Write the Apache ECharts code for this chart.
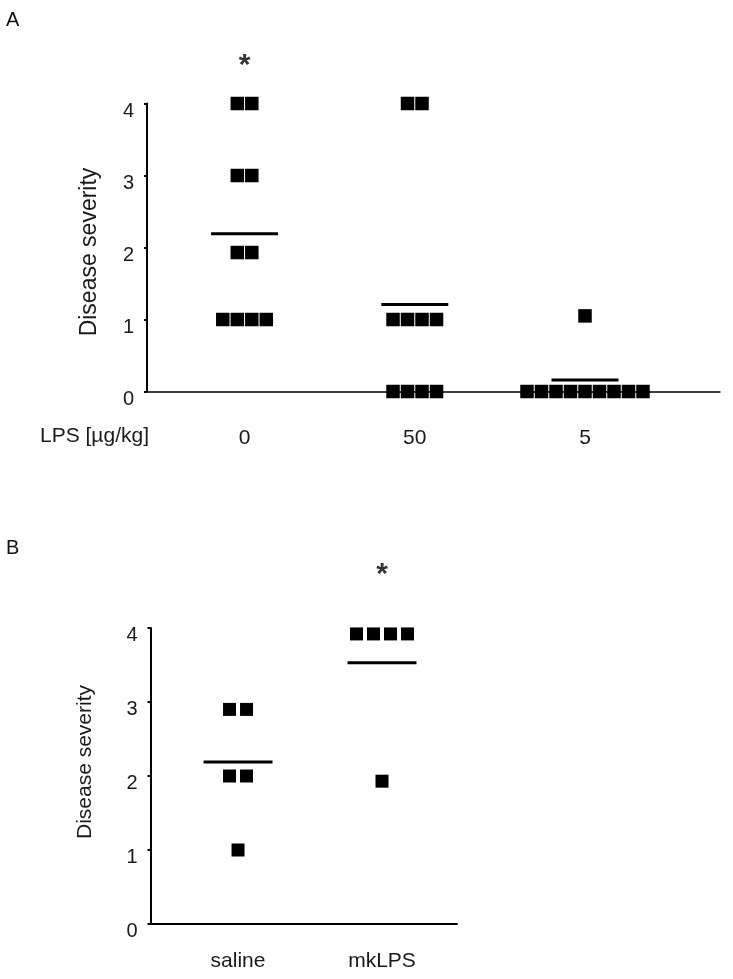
<!DOCTYPE html>
<html>
<head>
<meta charset="utf-8">
<script src="https://cdn.jsdelivr.net/npm/echarts@6/dist/echarts.min.js"></script>
<style>
html,body{margin:0;padding:0;background:#fff;}
#chart{width:733px;height:979px;}
</style>
</head>
<body>
<div id="chart"></div>
<script>
// ---------- Panel A data ----------
const catA = ['0', '50', '5'];               // LPS [µg/kg]
const sevA_0 = [4, 4, 3, 3, 1.93, 1.93, 1, 1, 1, 1];
const sevA_50 = [4, 4, 1, 1, 1, 1, 0, 0, 0, 0];
const sevA_5 = [1.05, 0, 0, 0, 0, 0, 0, 0, 0, 0];
const meanA = [2.19, 1.21, 0.16];
const starA = [4.58, null, null];

// ---------- Panel B data ----------
const catB = ['saline', 'mkLPS'];
const sevB_saline = [2.9, 2.9, 2, 2, 1];
const sevB_mkLPS = [3.92, 3.92, 3.92, 3.92, 1.93];
const meanB = [2.19, 3.53];
const starB = [null, 4.78];

const yTicks = [0, 1, 2, 3, 4];
const yName = 'Disease severity';

const FONT = '"Liberation Sans", Arial, sans-serif';
const TXT = '#1a1a1a';

// layout
const gA = {left: 147, top: 103.5, width: 573, height: 288};
const gB = {left: 150.5, top: 628, width: 306.5, height: 296};
const xA = {min: 0.427, max: 3.793};
const xB = {min: 0.392, max: 2.521};

function points(groups, pitchPx, grid, xr) {
  const pitch = pitchPx * (xr.max - xr.min) / grid.width;
  const pts = [];
  groups.forEach((vals, gi) => {
    const counts = {}, seen = {};
    vals.forEach(v => counts[v] = (counts[v] || 0) + 1);
    vals.forEach(v => {
      const n = counts[v];
      const k = (seen[v] = (seen[v] || 0) + 1) - 1;
      pts.push([gi + 1 + (k - (n - 1) / 2) * pitch, v]);
    });
  });
  return pts;
}
const idxData = arr => arr.map((v, i) => v == null ? null : [i + 1, v]).filter(d => d);

function yAxis(gi, fs) {
  return {
    type: 'value', gridIndex: gi, min: 0, max: 4, interval: 1,
    axisLine: {show: true, lineStyle: {color: '#000', width: 2}},
    axisTick: {show: true, inside: false, length: 3, lineStyle: {color: '#000', width: 2}},
    axisLabel: {fontFamily: FONT, fontSize: fs, color: TXT, margin: 13,
      verticalAlign: 'top', lineHeight: 15,
      formatter: v => yTicks.includes(v) ? String(v) : ''},
    splitLine: {show: false}
  };
}
function xAxis(gi, xr, cats, fs, margin, lw) {
  return {
    type: 'value', gridIndex: gi, min: xr.min, max: xr.max,
    axisLine: {show: true, onZero: false, lineStyle: {color: '#000', width: lw}},
    axisTick: {show: false},
    splitLine: {show: false},
    axisLabel: {
      fontFamily: FONT, fontSize: fs, color: TXT, margin: margin,
      customValues: cats.map((c, i) => i + 1),
      formatter: v => cats[Math.round(v) - 1] || ''
    }
  };
}
const sq = {color: '#000', opacity: 1};
const starLabel = {show: true, position: 'inside', formatter: '*', fontFamily: FONT,
  fontSize: 30, fontWeight: 'bold', color: '#000', offset: [0, 4]};

const option = {
  animation: false,
  backgroundColor: '#fff',
  grid: [
    Object.assign({containLabel: false}, gA),
    Object.assign({containLabel: false}, gB)
  ],
  xAxis: [xAxis(0, xA, catA, 21, 36, 1.5), xAxis(1, xB, catB, 21, 27, 2)],
  yAxis: [yAxis(0, 20), yAxis(1, 20)],
  graphic: [
    {type: 'text', left: 6, top: 10, style: {text: 'A', font: '20px ' + FONT, fill: '#111'}},
    {type: 'text', left: 6, top: 538, style: {text: 'B', font: '20px ' + FONT, fill: '#111'}},
    {type: 'text', left: 40, top: 426, style: {text: 'LPS [µg/kg]', font: '21px ' + FONT, fill: TXT}},
    {type: 'text', x: 90, y: 252, rotation: Math.PI / 2,
      style: {text: yName, font: '23px ' + FONT, fill: TXT, align: 'center', verticalAlign: 'middle'}},
    {type: 'text', x: 85, y: 762, rotation: Math.PI / 2,
      style: {text: yName, font: '21px ' + FONT, fill: TXT, align: 'center', verticalAlign: 'middle'}}
  ],
  series: [
    {type: 'scatter', xAxisIndex: 0, yAxisIndex: 0, clip: false, symbol: 'rect', symbolSize: 13.5,
      itemStyle: sq, data: points([sevA_0, sevA_50, sevA_5], 14.5, gA, xA)},
    {type: 'scatter', xAxisIndex: 0, yAxisIndex: 0, clip: false, symbol: 'rect', symbolSize: [67, 3],
      itemStyle: sq, data: idxData(meanA)},
    {type: 'scatter', xAxisIndex: 0, yAxisIndex: 0, clip: false, symbolSize: 0,
      label: starLabel, data: idxData(starA)},
    {type: 'scatter', xAxisIndex: 1, yAxisIndex: 1, clip: false, symbol: 'rect', symbolSize: 13,
      itemStyle: sq, data: points([sevB_saline, sevB_mkLPS], 17, gB, xB)},
    {type: 'scatter', xAxisIndex: 1, yAxisIndex: 1, clip: false, symbol: 'rect', symbolSize: [69, 3],
      itemStyle: sq, data: idxData(meanB)},
    {type: 'scatter', xAxisIndex: 1, yAxisIndex: 1, clip: false, symbolSize: 0,
      label: starLabel, data: idxData(starB)}
  ]
};
const chart = echarts.init(document.getElementById('chart'), null, {renderer: 'canvas'});
chart.setOption(option);
</script>
</body>
</html>
